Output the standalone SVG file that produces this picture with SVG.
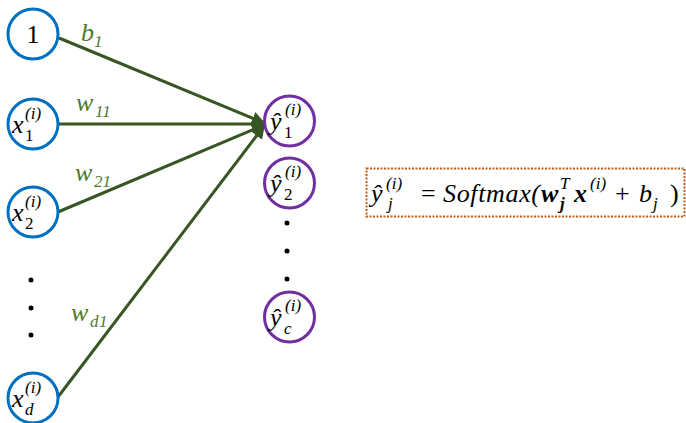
<svg xmlns="http://www.w3.org/2000/svg" width="686" height="423" viewBox="0 0 686 423">
<defs>
<style>
.in{fill:#fff;stroke:#0070C0;stroke-width:3}
.out{fill:#fff;stroke:#7030A0;stroke-width:3}
.t{font-family:"Liberation Serif","DejaVu Serif",serif;font-style:italic;fill:#000}
.r{font-style:normal}
.bf{font-weight:bold}
.big{font-size:26px}
.sm{font-size:17px}
.lab{font-family:"Liberation Serif","DejaVu Serif",serif;font-style:italic;fill:#4E7A30}
.edge{stroke:#375623;stroke-width:3;fill:none}
.dot{fill:#000}
</style>
<marker id="ah" viewBox="0 0 10 10" refX="9" refY="5" markerWidth="4.5" markerHeight="4.5" orient="auto" markerUnits="strokeWidth">
<path d="M0,0 L10,5 L0,10 Z" fill="#375623"/>
</marker>
</defs>
<g id="connectors">
<line class="edge" x1="59" y1="38" x2="264" y2="123" marker-end="url(#ah)"/>
<line class="edge" x1="59" y1="124" x2="264" y2="124" marker-end="url(#ah)"/>
<line class="edge" x1="58" y1="212" x2="264" y2="125" marker-end="url(#ah)"/>
<line class="edge" x1="58" y1="397" x2="264" y2="126" marker-end="url(#ah)"/>
<text class="lab big" x="81" y="41">b</text><text class="lab sm r" x="94" y="47">1</text>
<text class="lab big" x="76" y="111">w</text><text class="lab sm r" x="95" y="117">11</text>
<text class="lab big" x="75" y="181">w</text><text class="lab sm r" x="94" y="187">21</text>
<text class="lab big" x="71" y="321">w</text><text class="lab sm" x="90" y="327">d</text><text class="lab sm r" x="99" y="327">1</text>
</g>
<g id="n1">
<circle class="in" cx="33" cy="34" r="25"/>
<text x="33" y="43" text-anchor="middle" font-family="Liberation Serif, serif" font-size="26">1</text>
</g>
<g id="x1">
<circle class="in" cx="33" cy="124" r="25"/>
<text class="t big" x="12" y="133">x</text><text class="t sm r" x="25" y="141">1</text><text class="t sm" x="25" y="119">(i)</text>
</g>
<g id="x2">
<circle class="in" cx="33" cy="212" r="25"/>
<text class="t big" x="12" y="221">x</text><text class="t sm r" x="25" y="229">2</text><text class="t sm" x="25" y="207">(i)</text>
</g>
<g id="xdots">
<circle class="dot" cx="31" cy="280" r="2.5"/>
<circle class="dot" cx="31" cy="308" r="2.5"/>
<circle class="dot" cx="31" cy="335" r="2.5"/>
</g>
<g id="xd">
<circle class="in" cx="33" cy="398" r="25"/>
<text class="t big" x="12" y="407">x</text><text class="t sm" x="25" y="415">d</text><text class="t sm" x="25" y="393">(i)</text>
</g>
<g id="y1">
<circle class="out" cx="289.5" cy="121" r="25"/>
<text class="t big" x="270" y="130">ŷ</text><text class="t sm r" x="284" y="138">1</text><text class="t sm" x="285" y="115">(i)</text>
</g>
<g id="y2">
<circle class="out" cx="289.5" cy="183" r="25"/>
<text class="t big" x="270" y="192">ŷ</text><text class="t sm r" x="284" y="200">2</text><text class="t sm" x="285" y="177">(i)</text>
</g>
<g id="ydots">
<circle class="dot" cx="287" cy="223" r="2.5"/>
<circle class="dot" cx="287" cy="251" r="2.5"/>
<circle class="dot" cx="287" cy="279" r="2.5"/>
</g>
<g id="yc">
<circle class="out" cx="289.5" cy="317" r="25"/>
<text class="t big" x="270" y="326">ŷ</text><text class="t sm" x="284" y="334">c</text><text class="t sm" x="285" y="311">(i)</text>
</g>
<g id="formula">
<rect x="366.5" y="168.5" width="318" height="48" fill="none" stroke="#C55A11" stroke-width="2" stroke-dasharray="2,1.5"/>
<text class="t big" x="371" y="202">ŷ</text>
<text class="t sm" x="386" y="189">(i)</text>
<text class="t sm" x="388" y="209">j</text>
<text class="t big r" x="421" y="202">=</text>
<text class="t big" x="443" y="202" textLength="97" lengthAdjust="spacing">Softmax(</text>
<text class="t big bf" x="541" y="202">w</text>
<text class="t sm" x="560" y="189">T</text>
<text class="t sm bf" x="560" y="209">j</text>
<text class="t big bf" x="574" y="202">x</text>
<text class="t sm" x="590" y="189">(i)</text>
<text class="t big r" x="615" y="202">+</text>
<text class="t big" x="639" y="202">b</text>
<text class="t sm" x="653" y="209">j</text>
<text class="t big r" x="670" y="202">)</text>
</g>
</svg>
